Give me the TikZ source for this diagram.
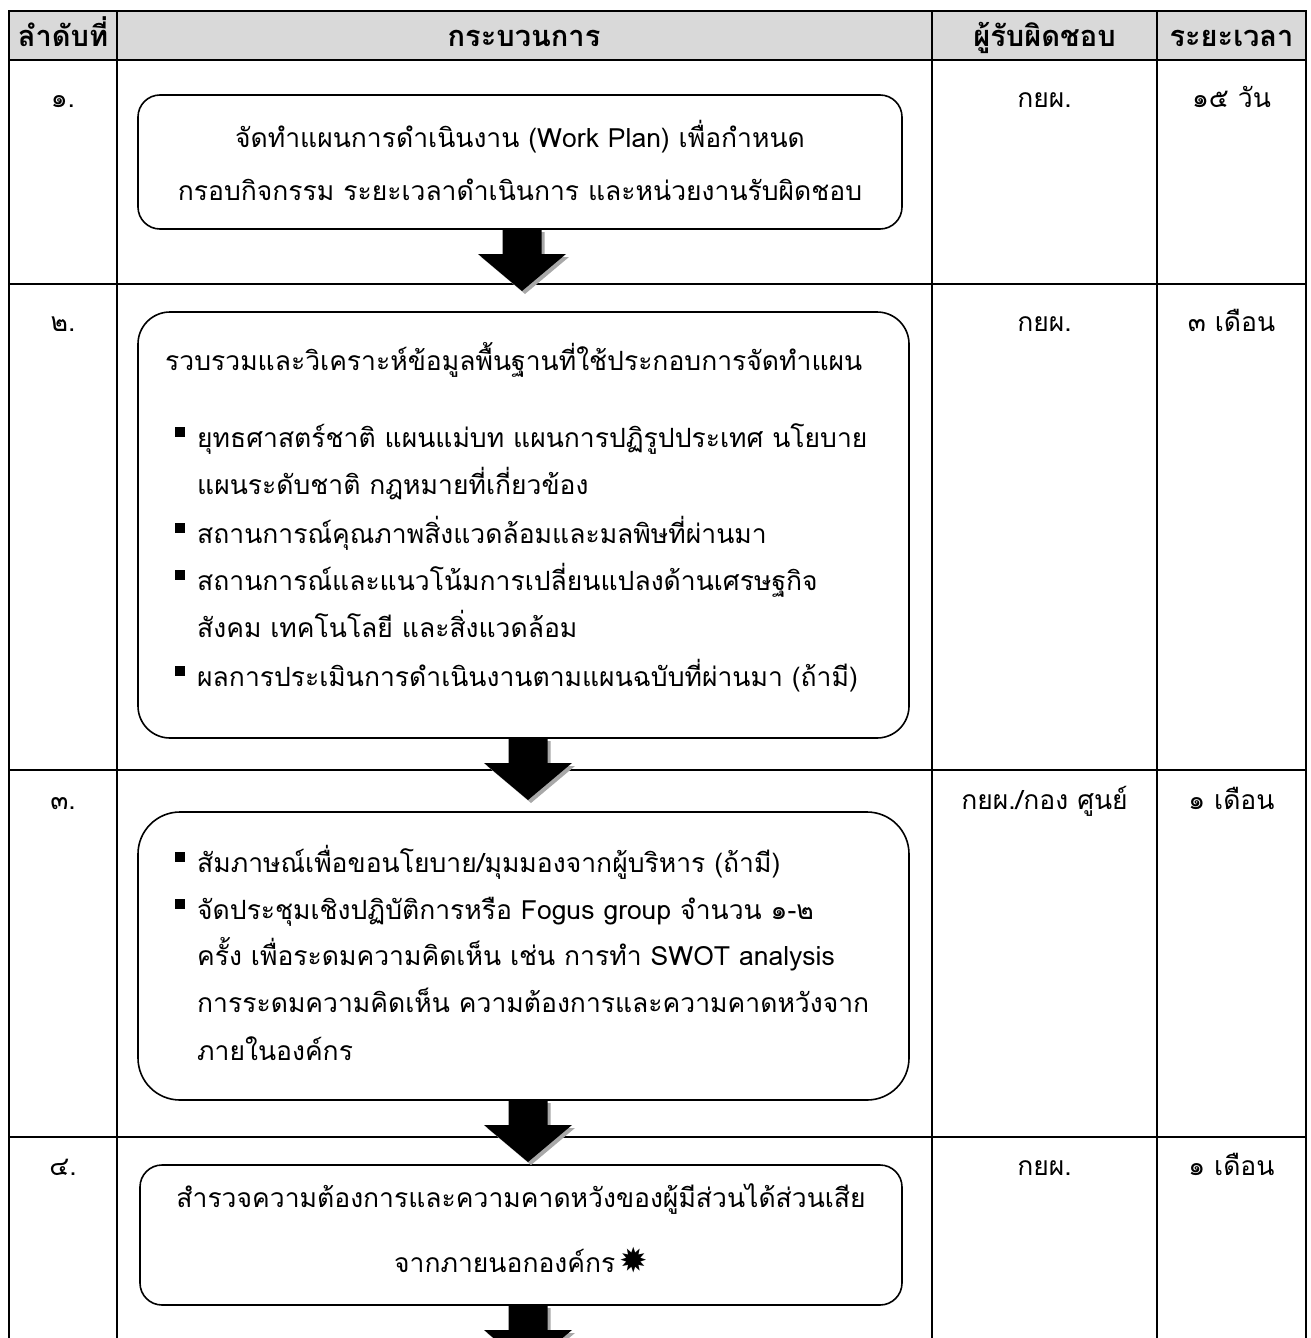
\documentclass[tikz,border=0pt]{standalone}
\usepackage{fontspec}
\setmainfont{Loma}[Script=Thai]
\newfontfamily\symfont{DejaVu Sans}
\definecolor{hdrgray}{HTML}{D9D9D9}
\definecolor{shadowgray}{HTML}{A8A8A8}
\newcommand\blkarrow[1]{%
  \begin{scope}[shift={(#1)}]
    \fill[shadowgray] (-16.5,3) -- (22.5,3) -- (22.5,28) -- (47,28) -- (3,65) -- (-41,28) -- (-16.5,28) -- cycle;
    \fill[black] (-19.5,0) -- (19.5,0) -- (19.5,25) -- (44,25) -- (0,62) -- (-44,25) -- (-19.5,25) -- cycle;
  \end{scope}}
\begin{document}
\begin{tikzpicture}[x=1pt,y=-1pt,
  gridline/.style={line width=2.2pt},
  procbox/.style={draw, line width=1.6pt, inner sep=0pt},
  body/.style={font=\fontsize{26.5}{30}\selectfont, inner sep=0pt},
  headtxt/.style={font=\fontsize{29}{32}\selectfont\bfseries, inner sep=0pt},
  sq/.style={fill=black, minimum size=10pt, inner sep=0pt}
]
\useasboundingbox (0,0) rectangle (1311,1338);
\fill[hdrgray] (9,11) rectangle (1306,60);
% grid
\draw[gridline] (9,1338) -- (9,11) -- (1306,11) -- (1306,1338);
\draw[gridline] (117,11) -- (117,1338);
\draw[gridline] (932,11) -- (932,1338);
\draw[gridline] (1157,11) -- (1157,1338);
\draw[gridline] (9,60) -- (1306,60);
\draw[gridline] (9,284) -- (1306,284);
\draw[gridline] (9,770) -- (1306,770);
\draw[gridline] (9,1137) -- (1306,1137);
% header
\node[headtxt, anchor=base] (h1) at (63,47) {ลำดับที่};
\node[headtxt, anchor=base] (h2) at (524,47) {กระบวนการ};
\node[headtxt, anchor=base] (h3) at (1044.5,47) {ผู้รับผิดชอบ};
\node[headtxt, anchor=base] (h4) at (1231.5,47) {ระยะเวลา};
% column texts
\node[body, anchor=base] (n1) at (63,107) {๑.};
\node[body, anchor=base] (r1) at (1044.5,107) {กยผ.};
\node[body, anchor=base] (t1) at (1231.5,107) {๑๕ วัน};
\node[body, anchor=base] (n2) at (63,331) {๒.};
\node[body, anchor=base] (r2) at (1044.5,331) {กยผ.};
\node[body, anchor=base] (t2) at (1231.5,331) {๓ เดือน};
\node[body, anchor=base] (n3) at (63,809) {๓.};
\node[body, anchor=base] (r3) at (1044.5,809) {กยผ./กอง ศูนย์};
\node[body, anchor=base] (t3) at (1231.5,809) {๑ เดือน};
\node[body, anchor=base] (n4) at (63,1175) {๔.};
\node[body, anchor=base] (r4) at (1044.5,1175) {กยผ.};
\node[body, anchor=base] (t4) at (1231.5,1175) {๑ เดือน};
% boxes
\node[procbox, rounded corners=22pt, minimum width=764pt, minimum height=134pt] (b1) at (520,162) {};
\node[procbox, rounded corners=32pt, minimum width=771pt, minimum height=426pt] (b2) at (523.5,525) {};
\node[procbox, rounded corners=42pt, minimum width=771pt, minimum height=288pt] (b3) at (523.5,956) {};
\node[procbox, rounded corners=22pt, minimum width=762pt, minimum height=140pt] (b4) at (521,1235) {};
% box 1 text
\node[body, anchor=base] (b1l1) at (520,147) {จัดทำแผนการดำเนินงาน (Work Plan) เพื่อกำหนด};
\node[body, anchor=base] (b1l2) at (520,200) {กรอบกิจกรรม ระยะเวลาดำเนินการ และหน่วยงานรับผิดชอบ};
% box 2 text
\node[body, anchor=base west] (b2t) at (165,370) {รวบรวมและวิเคราะห์ข้อมูลพื้นฐานที่ใช้ประกอบการจัดทำแผน};
\node[sq] (s21) at (180,432) {};
\node[body, anchor=base west] (b2a) at (197,447) {ยุทธศาสตร์ชาติ แผนแม่บท แผนการปฏิรูปประเทศ นโยบาย};
\node[body, anchor=base west] (b2a2) at (197,494) {แผนระดับชาติ กฎหมายที่เกี่ยวข้อง};
\node[sq] (s22) at (180,528) {};
\node[body, anchor=base west] (b2b) at (197,543) {สถานการณ์คุณภาพสิ่งแวดล้อมและมลพิษที่ผ่านมา};
\node[sq] (s23) at (180,575) {};
\node[body, anchor=base west] (b2c) at (197,590) {สถานการณ์และแนวโน้มการเปลี่ยนแปลงด้านเศรษฐกิจ};
\node[body, anchor=base west] (b2c2) at (197,637) {สังคม เทคโนโลยี และสิ่งแวดล้อม};
\node[sq] (s24) at (180,671) {};
\node[body, anchor=base west] (b2d) at (197,686) {ผลการประเมินการดำเนินงานตามแผนฉบับที่ผ่านมา (ถ้ามี)};
% box 3 text
\node[sq] (s31) at (180,857) {};
\node[body, anchor=base west] (b3a) at (197,872) {สัมภาษณ์เพื่อขอนโยบาย/มุมมองจากผู้บริหาร (ถ้ามี)};
\node[sq] (s32) at (180,904) {};
\node[body, anchor=base west] (b3b) at (197,919) {จัดประชุมเชิงปฏิบัติการหรือ Fogus group จำนวน ๑-๒};
\node[body, anchor=base west] (b3b2) at (197,965) {ครั้ง เพื่อระดมความคิดเห็น เช่น การทำ SWOT analysis};
\node[body, anchor=base west] (b3b3) at (197,1012) {การระดมความคิดเห็น ความต้องการและความคาดหวังจาก};
\node[body, anchor=base west] (b3b4) at (197,1060) {ภายในองค์กร};
% box 4 text
\node[body, anchor=base] (b4l1) at (521,1207) {สำรวจความต้องการและความคาดหวังของผู้มีส่วนได้ส่วนเสีย};
\node[body, anchor=base] (b4l2) at (521,1272) {จากภายนอกองค์กร\hspace{4pt}{\symfont\fontsize{34}{34}\selectfont ✹}};
% arrows
\blkarrow{522,229}
\blkarrow{528,738}
\blkarrow{528,1100}
\blkarrow{528,1305}
\end{tikzpicture}
\end{document}
